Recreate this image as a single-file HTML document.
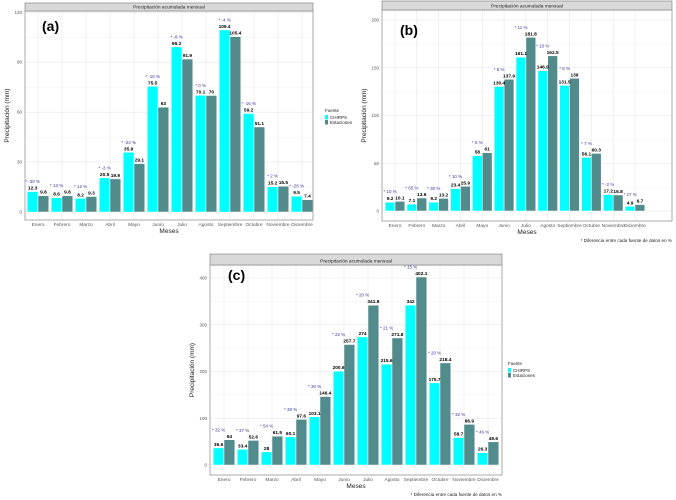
<!DOCTYPE html>
<html><head><meta charset="utf-8"><style>
body{margin:0;background:#fff}
svg{display:block;font-family:"Liberation Sans",sans-serif}
</style></head><body>
<svg id="c" width="676" height="500"></svg>
<script>
const months=["Enero","Febrero","Marzo","Abril","Mayo","Junio","Julio","Agosto","Septiembre","Octubre","Noviembre","Diciembre"];
const chirpsA=[12.3,8.6,8.2,20.5,35.9,75.5,99.2,70.1,109.4,59.2,15.2,9.5];
const estA=[9.8,9.8,9.3,19.9,29.1,63.0,91.9,70,105.4,51.1,15.5,7.4];
const pctA=["-30","13","12","-3","-23","-18","-8","0","-4","-16","2","-28"];
const ticksA=[0,30,60,90,120];
const chirpsB=[9.2,7.1,9.2,23.4,58,130.4,161.1,146.9,131.5,56.1,17.2,4.9];
const estB=[10.1,13.6,13.2,25.9,61,137.9,181.8,162.5,139,60.3,16.8,6.7];
const pctB=["10","65","30","10","5","5","11","10","6","7","-2","27"];
const ticksB=[0,50,100,150,200];
const chirpsC=[36.6,33.4,28,60.1,103.1,200.6,274,215.6,342,175.7,58.7,26.3];
const estC=[54,52.6,61.5,97.6,146.4,257.7,341.8,271.8,402.1,218.4,86.9,49.6];
const pctC=["32","37","54","38","30","22","20","21","15","20","32","46"];
const ticksC=[0,100,200,300,400];

const NS="http://www.w3.org/2000/svg";
const svg=document.getElementById('c');
function mk(tag,attrs,parent,text){const e=document.createElementNS(NS,tag);for(const k in attrs)e.setAttribute(k,attrs[k]);if(text!==undefined)e.textContent=text;(parent||svg).appendChild(e);return e;}

function panel(o){
  const g=mk('g',{});
  
  
  const L=o.left,R=o.right,T=o.top,B=o.bottom;
  const ymax=o.ticks[o.ticks.length-1];
  const y=v=>o.y0-(v/ymax)*(o.y0-o.yTop);
  const n=months.length, step=(o.xLast-o.xFirst)/(n-1);
  const xc=i=>o.xFirst+i*step;
  mk('rect',{x:L,y:T,width:R-L,height:B-T,fill:'#fff'},g);
  for(let i=0;i<o.ticks.length-1;i++){const v=(o.ticks[i]+o.ticks[i+1])/2;mk('line',{x1:L,x2:R,y1:y(v),y2:y(v),stroke:'#f2f2f2','stroke-width':0.5},g);}
  for(const t of o.ticks){mk('line',{x1:L,x2:R,y1:y(t),y2:y(t),stroke:'#e6e6e6','stroke-width':0.6},g);
    const tl=mk('text',{x:L-3,y:y(t)+1.5,'font-size':4.5,fill:'#555','text-anchor':'end'},g,String(t));
    }
  for(let i=0;i<n;i++){mk('line',{x1:xc(i),x2:xc(i),y1:T,y2:B,stroke:'#e6e6e6','stroke-width':0.6},g);}
  const bw=step*0.45;
  for(let i=0;i<n;i++){
    const c=o.chirps[i],e=o.est[i];
    const b1=mk('rect',{x:xc(i)-bw,y:y(c),width:bw,height:o.y0-y(c),fill:'#00ffff',stroke:'#fff','stroke-width':0.5},g);
    
    const b2=mk('rect',{x:xc(i),y:y(e),width:bw,height:o.y0-y(e),fill:'#528b8b',stroke:'#fff','stroke-width':0.5},g);
    
    const l1=mk('text',{x:xc(i)-bw/2,y:y(c)-2,'font-size':4.8,'font-weight':'bold','text-anchor':'middle',fill:'#000'},g,String(c));
    
    const l2=mk('text',{x:xc(i)+bw/2,y:y(e)-2,'font-size':4.8,'font-weight':'bold','text-anchor':'middle',fill:'#000'},g,String(e));
    
    const p=mk('text',{x:xc(i)-bw/2,y:y(Math.max(c,e))-8.5,'font-size':4.5,'text-anchor':'middle',fill:'#3a3aa0'},g,'* '+o.pct[i]+' %');
    
    const xt=mk('text',{x:xc(i),y:B+6,'font-size':4.8,fill:'#555','text-anchor':'middle'},g,months[i]);
    
  }
  mk('rect',{x:L,y:T,width:R-L,height:B-T,fill:'none',stroke:'#888','stroke-width':0.7},g);
  const st=mk('rect',{x:L,y:o.stripTop,width:R-L,height:T-o.stripTop,fill:'#d9d9d9',stroke:'#888','stroke-width':0.7},g);
  
  const stt=mk('text',{x:(L+R)/2,y:T-2.5,'font-size':4.8,fill:'#222','text-anchor':'middle'},g,'Precipitación acumulada mensual');
  
  const xa=mk('text',{x:(L+R)/2,y:B+13,'font-size':6.5,fill:'#222','text-anchor':'middle'},g,'Meses');
  
  const ya=mk('text',{x:0,y:0,'font-size':6.5,fill:'#222','text-anchor':'middle',transform:'translate('+(L-16)+','+((T+B)/2)+') rotate(-90)'},g,'Precipitación (mm)');
  
  const pl=mk('text',{x:o.lblX,y:o.lblY,'font-size':14,'font-weight':'bold',fill:'#000'},g,'('+o.id+')');
  
  if(o.foot){const f=mk('text',{x:R,y:o.foot,'font-size':4.6,fill:'#222','text-anchor':'end'},g,'* Diferencia entre cada fuente de datos en %');
    }
  if(o.leg){const lg=mk('g',{},g);
    mk('text',{x:o.leg[0],y:o.leg[1],'font-size':4.5,fill:'#222'},lg,'Fuente');
    mk('rect',{x:o.leg[0],y:o.leg[1]+3,width:3,height:4.5,fill:'#00ffff'},lg);
    mk('rect',{x:o.leg[0],y:o.leg[1]+8,width:3,height:4.5,fill:'#528b8b'},lg);
    mk('text',{x:o.leg[0]+5,y:o.leg[1]+7,'font-size':4.5,fill:'#222'},lg,'CHIRPS');
    mk('text',{x:o.leg[0]+5,y:o.leg[1]+12,'font-size':4.5,fill:'#222'},lg,'Estaciones');}
}
panel({id:'a',chirps:chirpsA,est:estA,pct:pctA,ticks:ticksA,left:25,right:313,top:11,bottom:220,stripTop:3,y0:212,yTop:12.3,xFirst:38,xLast:302,lblX:42,lblY:31,leg:[325,112]});
panel({id:'b',chirps:chirpsB,est:estB,pct:pctB,ticks:ticksB,left:382,right:672,top:10,bottom:221,stripTop:1,y0:211,yTop:20,xFirst:395,xLast:635,lblX:400,lblY:35,foot:242});
panel({id:'c',chirps:chirpsC,est:estC,pct:pctC,ticks:ticksC,left:210,right:502,top:265,bottom:475,stripTop:254,y0:465,yTop:278,xFirst:224,xLast:488,lblX:228,lblY:280,foot:496,leg:[508,365]});
</script>
</body></html>
